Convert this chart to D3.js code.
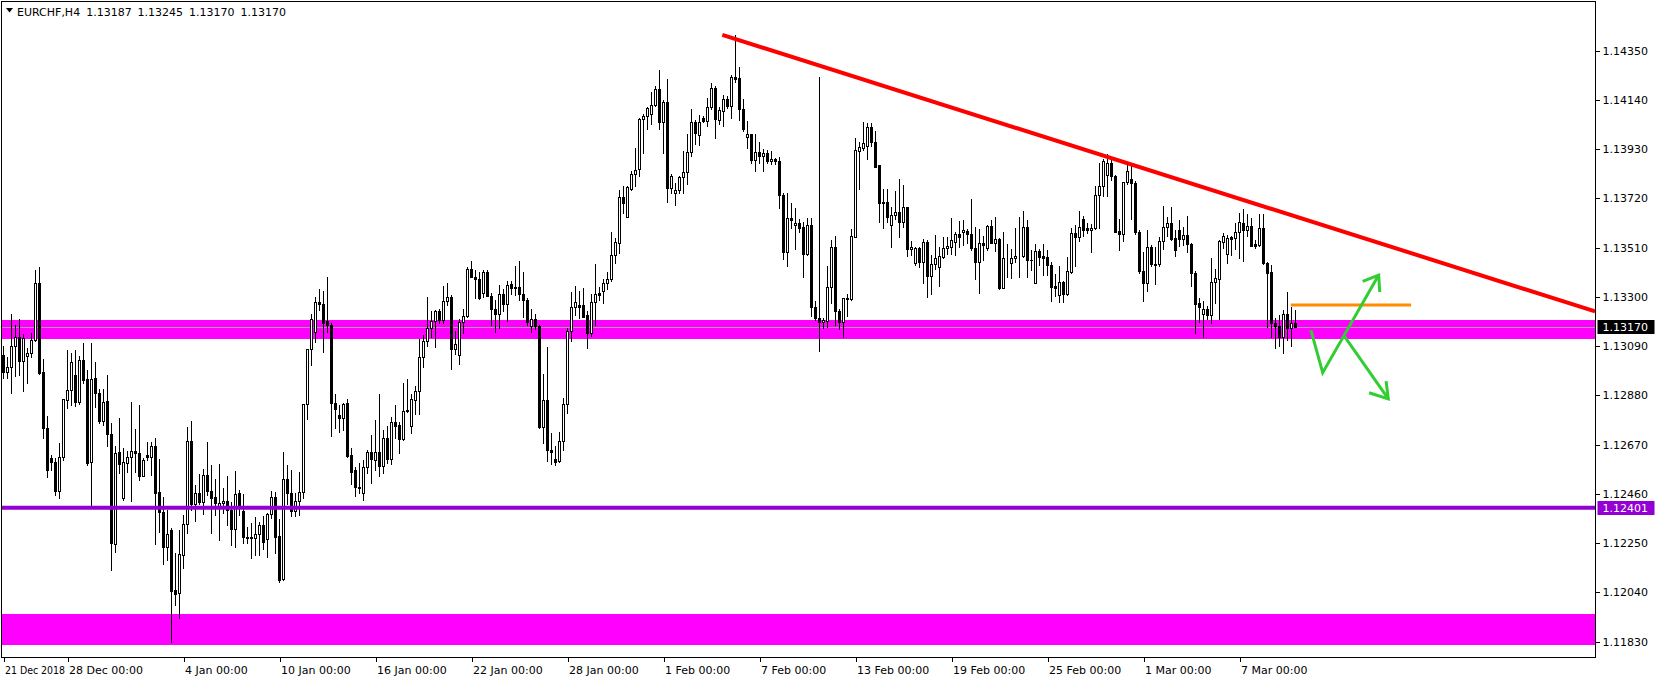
<!DOCTYPE html>
<html><head><meta charset="utf-8">
<script src="https://cdn.jsdelivr.net/npm/d3@7"></script>
<style>
body{margin:0;background:#fff;}
svg text{font-family:"DejaVu Sans",Verdana,sans-serif;font-size:11px;fill:#000;}
</style>
</head><body>
<svg id="c" width="1660" height="683"></svg>
<script>
const symbolTitle = "EURCHF,H4";
const lastBar = [1.13187, 1.13245, 1.13170, 1.13170];
const open = [
1.13053,1.12979,1.13000,1.13089,1.13128,1.13025,1.13050,1.13060,1.13117,1.13359,
1.12979,1.12740,1.12612,1.12595,1.12474,1.12617,1.12861,1.12901,1.12968,1.12850,
1.13032,1.12949,1.12595,1.12954,1.12890,1.12769,1.12857,1.12715,1.12247,1.12638,
1.12442,1.12593,1.12616,1.12643,1.12633,1.12538,1.12626,1.12618,1.12664,1.12467,
1.12384,1.12235,1.12306,1.12050,1.12036,1.12197,1.12332,1.12686,1.12417,1.12463,
1.12427,1.12541,1.12473,1.12445,1.12409,1.12420,1.12431,1.12391,1.12312,1.12463,
1.12388,1.12277,1.12270,1.12270,1.12287,1.12327,1.12266,1.12373,1.12445,1.12280,
1.12095,1.12522,1.12465,1.12388,1.12431,1.12469,1.12842,1.13078,1.13149,1.13277,
1.13269,1.13197,1.13180,1.12846,1.12796,1.12782,1.12846,1.12626,1.12562,1.12491,
1.12465,1.12573,1.12637,1.12605,1.12637,1.12579,1.12700,1.12607,1.12768,1.12754,
1.12693,1.12815,1.12751,1.12860,1.12900,1.13042,1.13112,1.13169,1.13199,1.13240,
1.13202,1.13284,1.13298,1.13077,1.13052,1.13192,1.13220,1.13418,1.13387,1.13375,
1.13316,1.13405,1.13306,1.13248,1.13226,1.13312,1.13269,1.13356,1.13337,1.13341,
1.13312,1.13287,1.13174,1.13205,1.13178,1.12743,1.12861,1.12645,1.12609,1.12598,
1.12686,1.12844,1.13155,1.13256,1.13266,1.13266,1.13223,1.13145,1.13277,1.13316,
1.13327,1.13359,1.13376,1.13480,1.13529,1.13728,1.13643,1.13760,1.13824,1.13845,
1.14060,1.14070,1.14080,1.14119,1.14186,1.14045,1.14131,1.13764,1.13745,1.13757,
1.13811,1.13831,1.13920,1.14045,1.13991,1.14065,1.14051,1.14109,1.14190,1.14055,
1.14094,1.14144,1.14115,1.14237,1.14233,1.14101,1.13984,1.13994,1.13882,1.13918,
1.13899,1.13913,1.13881,1.13889,1.13878,1.13733,1.13490,1.13636,1.13608,1.13617,
1.13598,1.13482,1.13608,1.13256,1.13209,1.13195,1.13199,1.13342,1.13512,1.13241,
1.13194,1.13290,1.13290,1.13557,1.13924,1.13934,1.13945,1.14023,1.13959,1.13863,
1.13703,1.13703,1.13607,1.13649,1.13661,1.13621,1.13682,1.13503,1.13443,1.13507,
1.13450,1.13533,1.13391,1.13440,1.13426,1.13472,1.13507,1.13514,1.13536,1.13568,
1.13579,1.13582,1.13569,1.13508,1.13447,1.13530,1.13508,1.13603,1.13530,1.13547,
1.13340,1.13466,1.13444,1.13466,1.13473,1.13473,1.13598,1.13458,1.13359,1.13494,
1.13473,1.13470,1.13437,1.13348,1.13309,1.13362,1.13312,1.13406,1.13572,1.13555,
1.13632,1.13594,1.13586,1.13594,1.13736,1.13771,1.13818,1.13871,1.13817,1.13582,
1.13568,1.13790,1.13804,1.13785,1.13579,1.13412,1.13359,1.13515,1.13441,1.13440,
1.13540,1.13598,1.13615,1.13551,1.13586,1.13547,1.13565,1.13527,1.13404,1.13276,
1.13227,1.13247,1.13223,1.13362,1.13377,1.13536,1.13483,1.13557,1.13553,1.13576,
1.13617,1.13586,1.13604,1.13526,1.13522,1.13593,1.13444,1.13405,1.13188,1.13178,
1.13131,1.13226,1.13166,1.13187];
const high = [
1.13091,1.13043,1.13227,1.13180,1.13205,1.13143,1.13084,1.13146,1.13416,1.13427,
1.13035,1.12793,1.12627,1.12612,1.12676,1.12864,1.13074,1.13060,1.13074,1.13046,
1.13103,1.12989,1.13103,1.13022,1.12907,1.12907,1.12968,1.12762,1.12662,1.12783,
1.12655,1.12643,1.12852,1.12736,1.12839,1.12612,1.12682,1.12682,1.12697,1.12609,
1.12445,1.12391,1.12313,1.12207,1.12306,1.12370,1.12747,1.12771,1.12498,1.12545,
1.12566,1.12682,1.12583,1.12524,1.12588,1.12487,1.12536,1.12427,1.12558,1.12477,
1.12459,1.12320,1.12334,1.12363,1.12341,1.12366,1.12380,1.12472,1.12469,1.12351,
1.12637,1.12583,1.12562,1.12465,1.12553,1.12842,1.13078,1.13227,1.13298,1.13334,
1.13325,1.13387,1.13187,1.12885,1.12839,1.12849,1.12863,1.12654,1.12573,1.12593,
1.12605,1.12647,1.12711,1.12775,1.12886,1.12733,1.12750,1.12789,1.12839,1.12768,
1.12932,1.12949,1.12886,1.12920,1.13121,1.13138,1.13298,1.13242,1.13244,1.13247,
1.13347,1.13358,1.13308,1.13156,1.13205,1.13247,1.13429,1.13453,1.13415,1.13408,
1.13415,1.13415,1.13316,1.13287,1.13351,1.13333,1.13366,1.13366,1.13430,1.13454,
1.13408,1.13297,1.13248,1.13226,1.13180,1.12972,1.13086,1.12719,1.12662,1.12723,
1.12868,1.13167,1.13320,1.13347,1.13327,1.13337,1.13241,1.13312,1.13440,1.13341,
1.13376,1.13408,1.13575,1.13551,1.13754,1.13771,1.13771,1.13835,1.13935,1.14065,
1.14081,1.14112,1.14173,1.14200,1.14269,1.14141,1.14230,1.13825,1.13785,1.13814,
1.13923,1.13996,1.14101,1.14053,1.14077,1.14070,1.14148,1.14212,1.14198,1.14109,
1.14162,1.14158,1.14247,1.14418,1.14280,1.14145,1.14051,1.13996,1.13994,1.13960,
1.13930,1.13925,1.13923,1.13892,1.13895,1.13743,1.13745,1.13700,1.13679,1.13632,
1.13619,1.13636,1.13636,1.13281,1.14237,1.13212,1.13433,1.13544,1.13558,1.13248,
1.13294,1.13311,1.13588,1.13976,1.13962,1.14045,1.14040,1.14040,1.14008,1.13863,
1.13759,1.13759,1.13682,1.13752,1.13803,1.13777,1.13685,1.13539,1.13514,1.13514,
1.13546,1.13543,1.13479,1.13564,1.13514,1.13554,1.13557,1.13638,1.13578,1.13624,
1.13629,1.13589,1.13719,1.13598,1.13591,1.13558,1.13608,1.13629,1.13640,1.13551,
1.13575,1.13525,1.13504,1.13594,1.13640,1.13667,1.13629,1.13498,1.13525,1.13504,
1.13527,1.13498,1.13451,1.13399,1.13433,1.13366,1.13470,1.13594,1.13608,1.13667,
1.13646,1.13615,1.13612,1.13774,1.13871,1.13888,1.13911,1.13882,1.13820,1.13632,
1.13790,1.13871,1.13871,1.13793,1.13584,1.13490,1.13584,1.13522,1.13512,1.13555,
1.13689,1.13640,1.13683,1.13586,1.13629,1.13598,1.13646,1.13532,1.13409,1.13295,
1.13283,1.13262,1.13465,1.13418,1.13543,1.13571,1.13564,1.13560,1.13617,1.13657,
1.13675,1.13653,1.13635,1.13543,1.13653,1.13653,1.13451,1.13436,1.13209,1.13223,
1.13244,1.13320,1.13259,1.13245];
const low = [
1.12956,1.12956,1.12890,1.12964,1.12965,1.12897,1.12932,1.13043,1.13110,1.12972,
1.12698,1.12530,1.12563,1.12456,1.12442,1.12605,1.12826,1.12840,1.12836,1.12844,
1.12932,1.12584,1.12413,1.12830,1.12762,1.12754,1.12665,1.12136,1.12214,1.12551,
1.12432,1.12555,1.12431,1.12555,1.12517,1.12534,1.12605,1.12541,1.12246,1.12299,
1.12161,1.12178,1.11830,1.11986,1.11932,1.12145,1.12295,1.12389,1.12342,1.12417,
1.12374,1.12455,1.12295,1.12370,1.12263,1.12380,1.12327,1.12242,1.12235,1.12370,
1.12252,1.12249,1.12185,1.12199,1.12199,1.12223,1.12192,1.12356,1.12206,1.12086,
1.12093,1.12417,1.12366,1.12366,1.12370,1.12444,1.12779,1.13010,1.13109,1.13244,
1.13067,1.13152,1.12707,1.12742,1.12725,1.12732,1.12616,1.12502,1.12451,1.12462,
1.12434,1.12548,1.12505,1.12562,1.12538,1.12548,1.12590,1.12587,1.12697,1.12633,
1.12690,1.12808,1.12718,1.12801,1.12801,1.13000,1.13091,1.13128,1.13085,1.13188,
1.13190,1.13266,1.12991,1.13057,1.13013,1.13148,1.13216,1.13384,1.13294,1.13290,
1.13299,1.13302,1.13181,1.13152,1.13169,1.13238,1.13199,1.13312,1.13309,1.13287,
1.13216,1.13181,1.13152,1.13164,1.12740,1.12676,1.12602,1.12586,1.12581,1.12595,
1.12645,1.12804,1.13110,1.13223,1.13209,1.13213,1.13084,1.13135,1.13181,1.13287,
1.13276,1.13333,1.13366,1.13444,1.13489,1.13660,1.13639,1.13757,1.13774,1.13814,
1.13916,1.14016,1.14038,1.14115,1.14017,1.13913,1.13703,1.13743,1.13693,1.13743,
1.13743,1.13781,1.13899,1.13953,1.13949,1.14044,1.14030,1.14101,1.13977,1.14037,
1.14027,1.14105,1.14063,1.14215,1.14053,1.14006,1.13935,1.13873,1.13835,1.13873,
1.13839,1.13871,1.13868,1.13866,1.13681,1.13461,1.13433,1.13593,1.13504,1.13579,
1.13383,1.13480,1.13217,1.13202,1.13071,1.13167,1.13171,1.13276,1.13181,1.13162,
1.13130,1.13219,1.13287,1.13554,1.13759,1.13927,1.13887,1.13945,1.13856,1.13618,
1.13595,1.13621,1.13512,1.13631,1.13557,1.13597,1.13475,1.13479,1.13436,1.13426,
1.13358,1.13301,1.13311,1.13418,1.13347,1.13465,1.13483,1.13482,1.13479,1.13514,
1.13522,1.13530,1.13501,1.13376,1.13316,1.13458,1.13501,1.13530,1.13494,1.13333,
1.13338,1.13387,1.13380,1.13451,1.13387,1.13470,1.13387,1.13416,1.13359,1.13437,
1.13394,1.13394,1.13281,1.13302,1.13278,1.13278,1.13309,1.13402,1.13430,1.13537,
1.13561,1.13572,1.13490,1.13589,1.13596,1.13731,1.13731,1.13800,1.13575,1.13501,
1.13537,1.13783,1.13632,1.13568,1.13404,1.13281,1.13326,1.13433,1.13355,1.13434,
1.13504,1.13558,1.13544,1.13473,1.13518,1.13522,1.13490,1.13348,1.13146,1.13191,
1.13131,1.13205,1.13190,1.13273,1.13206,1.13508,1.13446,1.13479,1.13503,1.13465,
1.13455,1.13560,1.13517,1.13508,1.13519,1.13439,1.13171,1.13128,1.13081,1.13092,
1.13060,1.13116,1.13092,1.13170];
const close = [
1.12978,1.13000,1.13089,1.13128,1.13025,1.13124,1.13060,1.13117,1.13359,1.12975,
1.12740,1.12560,1.12594,1.12474,1.12617,1.12864,1.12901,1.13022,1.12850,1.13032,
1.12946,1.12591,1.12949,1.12892,1.12769,1.12851,1.12715,1.12250,1.12634,1.12588,
1.12595,1.12616,1.12643,1.12633,1.12538,1.12605,1.12618,1.12664,1.12465,1.12384,
1.12235,1.12289,1.12047,1.12033,1.12204,1.12332,1.12686,1.12417,1.12463,1.12427,
1.12541,1.12470,1.12444,1.12423,1.12420,1.12431,1.12391,1.12312,1.12460,1.12413,
1.12275,1.12270,1.12277,1.12287,1.12327,1.12256,1.12373,1.12445,1.12277,1.12093,
1.12522,1.12465,1.12388,1.12431,1.12469,1.12842,1.13078,1.13205,1.13277,1.13269,
1.13190,1.13180,1.12846,1.12821,1.12782,1.12842,1.12622,1.12555,1.12488,1.12484,
1.12576,1.12637,1.12607,1.12637,1.12580,1.12700,1.12607,1.12768,1.12751,1.12693,
1.12815,1.12818,1.12863,1.12900,1.13042,1.13112,1.13169,1.13199,1.13240,1.13202,
1.13284,1.13298,1.13077,1.13098,1.13192,1.13220,1.13418,1.13387,1.13375,1.13297,
1.13405,1.13306,1.13248,1.13226,1.13312,1.13269,1.13351,1.13337,1.13341,1.13312,
1.13285,1.13195,1.13205,1.13178,1.12743,1.12861,1.12645,1.12638,1.12595,1.12686,
1.12844,1.13155,1.13256,1.13277,1.13259,1.13216,1.13145,1.13277,1.13312,1.13309,
1.13359,1.13376,1.13480,1.13534,1.13728,1.13700,1.13767,1.13825,1.13842,1.14060,
1.14072,1.14105,1.14119,1.14186,1.14048,1.14131,1.13764,1.13814,1.13757,1.13811,
1.13831,1.13920,1.14045,1.13999,1.14048,1.14051,1.14109,1.14190,1.14058,1.14098,
1.14144,1.14115,1.14237,1.14230,1.14101,1.14016,1.13994,1.13882,1.13918,1.13899,
1.13913,1.13881,1.13889,1.13878,1.13733,1.13490,1.13636,1.13626,1.13615,1.13596,
1.13482,1.13608,1.13256,1.13209,1.13195,1.13202,1.13342,1.13512,1.13238,1.13195,
1.13294,1.13294,1.13560,1.13927,1.13938,1.13955,1.14023,1.13959,1.13856,1.13699,
1.13699,1.13639,1.13649,1.13661,1.13618,1.13682,1.13503,1.13512,1.13507,1.13450,
1.13533,1.13391,1.13440,1.13465,1.13475,1.13507,1.13517,1.13543,1.13568,1.13557,
1.13586,1.13568,1.13508,1.13447,1.13530,1.13522,1.13603,1.13532,1.13547,1.13340,
1.13466,1.13468,1.13466,1.13476,1.13476,1.13598,1.13458,1.13456,1.13497,1.13470,
1.13468,1.13437,1.13342,1.13338,1.13362,1.13312,1.13409,1.13572,1.13555,1.13598,
1.13584,1.13584,1.13594,1.13736,1.13774,1.13878,1.13871,1.13814,1.13579,1.13568,
1.13790,1.13838,1.13785,1.13579,1.13409,1.13359,1.13512,1.13441,1.13437,1.13540,
1.13598,1.13615,1.13547,1.13498,1.13547,1.13565,1.13527,1.13404,1.13271,1.13259,
1.13247,1.13223,1.13362,1.13380,1.13539,1.13560,1.13550,1.13547,1.13576,1.13618,
1.13586,1.13604,1.13519,1.13519,1.13593,1.13444,1.13404,1.13188,1.13178,1.13131,
1.13226,1.13169,1.13188,1.13170];

const priceTicks = [1.14350,1.14140,1.13930,1.13720,1.13510,1.13300,1.13090,1.12880,1.12670,1.12460,1.12250,1.12040,1.11830];
const dateTickIdx = [0,16,45,69,93,117,141,165,189,213,237,261,285,309];
const dateTickText = ["21 Dec 2018","28 Dec 00:00","4 Jan 00:00","10 Jan 00:00","16 Jan 00:00","22 Jan 00:00","28 Jan 00:00","1 Feb 00:00","7 Feb 00:00","13 Feb 00:00","19 Feb 00:00","25 Feb 00:00","1 Mar 00:00","7 Mar 00:00"];

const zoneLow = [1.13122, 1.11817];
const zoneHigh = [1.13202, 1.11948];
const supportLevel = 1.12401;
const bidPrice = 1.13170;
const trendIdx = [179.7, 397.9];
const trendPrice = [1.14418, 1.13238];
const orangeIdx = [321.8, 351.9];
const orangePrice = 1.13265;
const arrowUpIdx = [326.85, 329.8, 343.8];
const arrowUpPrice = [1.13158, 1.12977, 1.13393];
const arrowUpHeadIdx = [339.8, 343.8, 344.05];
const arrowUpHeadPrice = [1.13366, 1.13393, 1.13321];
const arrowDnIdx = [335.3, 346.2];
const arrowDnPrice = [1.13131, 1.12865];
const arrowDnHeadIdx = [341.4, 346.2, 345.65];
const arrowDnHeadPrice = [1.12891, 1.12865, 1.12941];

const W = 1660, H = 683;
const plotL = 1.5, plotR = 1595.5, plotT = 1.5, plotB = 657.5;
const svg = d3.select("#c");
svg.append("rect").attr("width", W).attr("height", H).attr("fill", "#fff");

const x = d3.scaleLinear().domain([0, 1]).range([3.5, 7.5]);
const y = d3.scaleLinear().domain([1.11764, 1.14558]).range([657, 2]);

svg.append("clipPath").attr("id", "plot").append("rect")
  .attr("x", plotL).attr("y", plotT).attr("width", plotR - plotL).attr("height", plotB - plotT);
const g = svg.append("g").attr("clip-path", "url(#plot)");

g.selectAll("rect.zone").data(zoneLow).join("rect").attr("class", "zone")
  .attr("x", plotL).attr("width", plotR - plotL)
  .attr("y", (d, i) => Math.round(y(zoneHigh[i])))
  .attr("height", (d, i) => Math.round(y(d)) - Math.round(y(zoneHigh[i])))
  .attr("fill", "#ff00ff");

g.append("line").attr("x1", plotL).attr("x2", plotR)
  .attr("y1", Math.round(y(bidPrice)) + 0.5).attr("y2", Math.round(y(bidPrice)) + 0.5)
  .attr("stroke", "#a0a0a0").attr("stroke-width", 1);

const idx = d3.range(open.length);
const cg = g.append("g").attr("shape-rendering", "crispEdges");
cg.selectAll("line.wick").data(idx).join("line").attr("class", "wick")
  .attr("x1", i => x(i)).attr("x2", i => x(i))
  .attr("y1", i => Math.round(y(high[i]))).attr("y2", i => Math.round(y(low[i])) + 1)
  .attr("stroke", "#000").attr("stroke-width", 1);
cg.selectAll("rect.body").data(idx).join("rect").attr("class", "body")
  .each(function(i) {
    const top = Math.round(y(Math.max(open[i], close[i])));
    const bot = Math.round(y(Math.min(open[i], close[i])));
    const s = d3.select(this);
    if (close[i] >= open[i]) {
      s.attr("x", x(i) - 1).attr("width", 2)
       .attr("y", top + 0.5).attr("height", Math.max(0, bot - top))
       .attr("fill", "#fff").attr("stroke", "#000").attr("stroke-width", 1);
    } else {
      s.attr("x", x(i) - 1.5).attr("width", 3)
       .attr("y", top).attr("height", Math.max(1, bot - top + 1))
       .attr("fill", "#000");
    }
  });

g.append("line").attr("x1", plotL).attr("x2", plotR)
  .attr("y1", y(supportLevel)).attr("y2", y(supportLevel))
  .attr("stroke", "#9400d3").attr("stroke-width", 4);

g.append("line")
  .attr("x1", x(trendIdx[0])).attr("y1", y(trendPrice[0]))
  .attr("x2", x(trendIdx[1])).attr("y2", y(trendPrice[1]))
  .attr("stroke", "#ff0000").attr("stroke-width", 4);

g.append("line")
  .attr("x1", x(orangeIdx[0])).attr("x2", x(orangeIdx[1]))
  .attr("y1", y(orangePrice)).attr("y2", y(orangePrice))
  .attr("stroke", "#ff8c00").attr("stroke-width", 3);

const ln = d3.line().x(d => x(d[0])).y(d => y(d[1]));
const gpaths = [
  d3.zip(arrowUpIdx, arrowUpPrice),
  d3.zip(arrowUpHeadIdx, arrowUpHeadPrice),
  d3.zip(arrowDnIdx, arrowDnPrice),
  d3.zip(arrowDnHeadIdx, arrowDnHeadPrice)
];
g.selectAll("path.arrow").data(gpaths).join("path").attr("class", "arrow")
  .attr("d", ln).attr("fill", "none").attr("stroke", "#32cd32")
  .attr("stroke-width", 3).attr("stroke-linejoin", "miter");

svg.append("rect").attr("x", plotL).attr("y", plotT)
  .attr("width", plotR - plotL).attr("height", plotB - plotT)
  .attr("fill", "none").attr("stroke", "#000").attr("stroke-width", 1)
  .attr("shape-rendering", "crispEdges");

const ay = svg.append("g").attr("transform", `translate(${plotR},0)`)
  .call(d3.axisRight(y).tickValues(priceTicks).tickSize(4).tickSizeOuter(0).tickFormat(d3.format(".5f")));
ay.select(".domain").remove();
ay.selectAll("text").attr("font-family", "DejaVu Sans").attr("font-size", 11).attr("fill", "#000");
ay.selectAll("line").attr("stroke", "#000").attr("shape-rendering", "crispEdges");

const ax = svg.append("g").attr("transform", `translate(0,${plotB})`)
  .call(d3.axisBottom(x).tickValues(dateTickIdx).tickSize(4).tickSizeOuter(0)
        .tickFormat((d, i) => dateTickText[i]));
ax.select(".domain").remove();
ax.selectAll("text").attr("text-anchor", "start").attr("dx", "1").attr("y", 9)
  .attr("font-family", "DejaVu Sans").attr("font-size", 11).attr("fill", "#000");
ax.selectAll("text").filter((d, i) => i === 0).attr("textLength", 60).attr("lengthAdjust", "spacingAndGlyphs");
ax.selectAll("line").attr("stroke", "#000").attr("shape-rendering", "crispEdges");

function priceLabel(p, bg) {
  const yy = Math.round(y(p));
  svg.append("rect").attr("x", plotR + 2).attr("y", yy - 7).attr("width", 57).attr("height", 14).attr("fill", bg);
  svg.append("text").attr("x", plotR + 7).attr("y", yy).attr("dy", "0.35em")
    .style("fill", "#fff").text(d3.format(".5f")(p));
}
priceLabel(bidPrice, "#000");
priceLabel(supportLevel, "#9400d3");

svg.append("path").attr("d", "M6,8 L13,8 L9.5,12.5 Z").attr("fill", "#000");
svg.append("text").attr("x", 17).attr("y", 16).attr("word-spacing", "2.5")
  .text(symbolTitle + " " + lastBar.map(d3.format(".5f")).join(" "));
</script>
</body></html>
